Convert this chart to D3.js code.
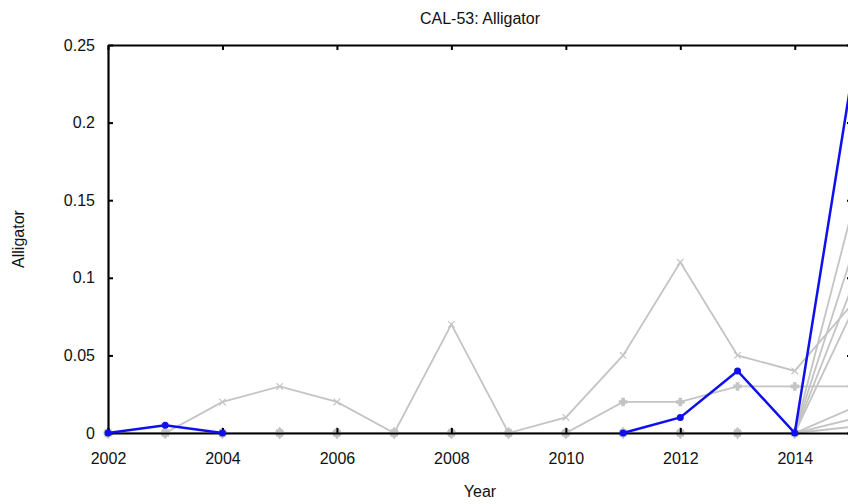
<!DOCTYPE html>
<html>
<head>
<meta charset="utf-8">
<script src="https://cdn.jsdelivr.net/npm/d3@7"></script>
<style>
  body { margin: 0; background: #fff; }
  text { font-family: "Liberation Sans", Arial, sans-serif; fill: #111; }
</style>
</head>
<body>
<div id="chart"></div>
<script>
const years = [2002, 2003, 2004, 2005, 2006, 2007, 2008, 2009, 2010, 2011, 2012, 2013, 2014, 2015]
const xTicks = [2002, 2004, 2006, 2008, 2010, 2012, 2014]
const yTicks = [0, 0.05, 0.1, 0.15, 0.2, 0.25]

// highlighted site
const alligator = [0, 0.005, 0, null, null, null, null, null, null, 0, 0.01, 0.04, 0, 0.23]

// other sites (grey)
const other1 = [0, 0, 0.02, 0.03, 0.02, 0, 0.07, 0, 0.01, 0.05, 0.11, 0.05, 0.04, 0.083]
const other2 = [0, 0, 0, 0, 0, 0, 0, 0, 0, 0.02, 0.02, 0.03, 0.03, 0.03]
const other3 = [0, 0, 0, 0, 0, 0, 0, 0, 0, 0, 0, 0, 0, 0.143]
const other4 = [0, 0, 0, 0, 0, 0, 0, 0, 0, 0, 0, 0, 0, 0.115]
const other5 = [0, 0, 0, 0, 0, 0, 0, 0, 0, 0, 0, 0, 0, 0.094]
const other6 = [0, 0, 0, 0, 0, 0, 0, 0, 0, 0, 0, 0, 0, 0.078]
const other7 = [0, 0, 0, 0, 0, 0, 0, 0, 0, 0, 0, 0, 0, 0.016]
const other8 = [0, 0, 0, 0, 0, 0, 0, 0, 0, 0, 0, 0, 0, 0.009]
const other9 = [0, 0, 0, 0, 0, 0, 0, 0, 0, 0, 0, 0, 0, 0.004]

const greySeries = [other3, other4, other5, other6, other7, other8, other9, other2, other1]
const symbols = [d3.symbolTimes, d3.symbolSquare, d3.symbolDiamond, d3.symbolCross, d3.symbolTimes, d3.symbolSquare, d3.symbolDiamond, d3.symbolCross, d3.symbolTimes]

const width = 848, height = 504
const mLeft = 108, mRight = 852, mTop = 45, mBottom = 433

const svg = d3.select("#chart").append("svg")
  .attr("width", width)
  .attr("height", height)

const x = d3.scaleLinear().domain([2002, 2015]).range([mLeft, mRight])
const y = d3.scaleLinear().domain([0, 0.25]).range([mBottom, mTop])

const line = d3.line()
  .defined(d => d[1] !== null)
  .x(d => x(d[0]))
  .y(d => y(d[1]))

const grey = "#c4c4c4"

greySeries.forEach((s, i) => {
  const pts = years.map((yr, j) => [yr, s[j]])
  svg.append("path")
    .datum(pts)
    .attr("fill", "none")
    .attr("stroke", grey)
    .attr("stroke-width", 1.8)
    .attr("d", line)
  svg.selectAll(null)
    .data(pts)
    .enter().append("path")
    .attr("transform", d => "translate(" + x(d[0]) + "," + y(d[1]) + ")")
    .attr("d", d3.symbol().type(symbols[i]).size(30))
    .attr("fill", symbols[i] === d3.symbolTimes ? "none" : grey)
    .attr("stroke", grey)
    .attr("stroke-width", 1.2)
})

// axis frame
svg.append("g").attr("transform", "translate(0," + mBottom + ")")
  .call(d3.axisBottom(x).tickValues(xTicks).tickFormat(d3.format("d")).tickSizeInner(-5).tickSizeOuter(0).tickPadding(20))
svg.append("g").attr("transform", "translate(0," + mTop + ")")
  .call(d3.axisTop(x).tickValues(xTicks).tickFormat("").tickSizeInner(-5).tickSizeOuter(0))
svg.append("g").attr("transform", "translate(" + mLeft + ",0)")
  .call(d3.axisLeft(y).tickValues(yTicks).tickFormat(d => d === 0 ? "0" : d3.format("")(d)).tickSizeInner(-5).tickSizeOuter(0).tickPadding(13))
svg.append("g").attr("transform", "translate(" + mRight + ",0)")
  .call(d3.axisRight(y).tickValues(yTicks).tickFormat("").tickSizeInner(-5).tickSizeOuter(0))

svg.selectAll(".domain").attr("stroke", "#000").attr("stroke-width", 2.2)
svg.selectAll(".tick line").attr("stroke", "#000").attr("stroke-width", 2)
svg.selectAll(".tick text")
  .style("font-family", "'Liberation Sans', Arial, sans-serif")
  .style("font-size", "16px")
  .attr("fill", "#111")

// highlighted series on top
const bluePts = years.map((yr, j) => [yr, alligator[j]])
svg.append("path")
  .datum(bluePts)
  .attr("fill", "none")
  .attr("stroke", "#1010ee")
  .attr("stroke-width", 2.5)
  .attr("d", line)
svg.selectAll(".bdot")
  .data(bluePts.filter(d => d[1] !== null))
  .enter().append("circle")
  .attr("class", "bdot")
  .attr("cx", d => x(d[0]))
  .attr("cy", d => y(d[1]))
  .attr("r", 3.5)
  .attr("fill", "#1010ee")

svg.append("text")
  .attr("x", (mLeft + mRight) / 2)
  .attr("y", 24)
  .attr("text-anchor", "middle")
  .style("font-size", "16px")
  .text("CAL-53: Alligator")

svg.append("text")
  .attr("x", (mLeft + mRight) / 2)
  .attr("y", 497)
  .attr("text-anchor", "middle")
  .style("font-size", "16px")
  .text("Year")

svg.append("text")
  .attr("transform", "translate(24," + (mBottom + mTop) / 2 + ") rotate(-90)")
  .attr("text-anchor", "middle")
  .style("font-size", "16px")
  .text("Alligator")
</script>
</body>
</html>
